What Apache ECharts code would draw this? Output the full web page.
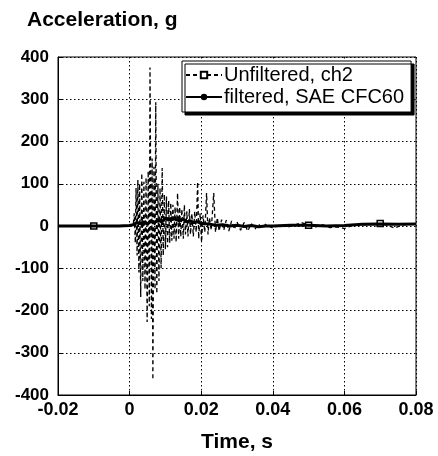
<!DOCTYPE html>
<html>
<head>
<meta charset="utf-8">
<script src="https://cdn.jsdelivr.net/npm/echarts@6/dist/echarts.min.js"></script>
<style>
html,body{margin:0;padding:0;background:#fff;}
#chart{width:438px;height:456px;}
</style>
</head>
<body>
<div id="chart"></div>
<script>
var titleText = 'Acceleration, g';
var xName = 'Time, s';
var seriesNames = ['Unfiltered, ch2', 'filtered, SAE CFC60'];

var unfT = [-0.02, -0.015, -0.01, -0.005, 0, 0.0005, 0.0010, 0.0013, 0.0016, 0.0018, 0.0021, 0.0023, 0.0026, 0.0028, 0.0031, 0.0034, 0.0037, 0.0040, 0.0043, 0.0046, 0.0049, 0.0052, 0.0055, 0.0057, 0.0061, 0.0063, 0.0065, 0.0068, 0.0071, 0.0073, 0.0076, 0.0079, 0.0082, 0.0085, 0.0088, 0.0091, 0.0094, 0.0097, 0.0100, 0.0103, 0.0106, 0.0109, 0.0112, 0.0115, 0.0118, 0.0121, 0.0124, 0.0127, 0.0130, 0.0134, 0.0137, 0.0140, 0.0143, 0.0146, 0.0150, 0.0153, 0.0156, 0.0160, 0.0163, 0.0167, 0.0170, 0.0174, 0.0178, 0.0182, 0.0186, 0.0190, 0.0193, 0.0197, 0.0201, 0.0205, 0.0210, 0.0215, 0.0219, 0.0223, 0.0228, 0.0235, 0.0240, 0.0245, 0.0250, 0.0257, 0.0263, 0.0270, 0.0277, 0.0285, 0.0293, 0.0300, 0.031, 0.032, 0.033, 0.034, 0.035, 0.036, 0.037, 0.038, 0.040, 0.042, 0.044, 0.046, 0.048, 0.050, 0.052, 0.054, 0.056, 0.058, 0.060, 0.062, 0.064, 0.066, 0.068, 0.070, 0.072, 0.074, 0.076, 0.078, 0.080];
var unfV = [0, 0, 0, 0, 0, 1, 2, 30, -40, 90, -70, 109, -110, 100, -168, 125, -130, 105, -150, 115, -227, 130, -190, 375, -220, 160, -364, 140, -150, 293, -160, 100, -130, 90, -100, 137, -70, 75, -55, 70, -50, 60, -40, 55, -35, 50, -30, 45, -38, 78, -30, 45, -25, 40, -30, 50, -20, 35, -25, 40, -20, 30, -25, 35, -15, 104, -30, 30, -38, 25, -15, 78, -20, 20, -10, 78, -15, 20, -12, 15, -10, 14, -12, 12, -8, 10, -10, 8, -12, 6, -8, 5, -5, 4, -5, 3, -3, 2, 8, 2, -2, 3, -4, -2, -6, 1, 2, 3, 6, 6, 2, -5, 2, 4, 4];
var unfMarkerT = [-0.01, 0.05, 0.07];

var filT = [-0.02, -0.01, -0.003, 0, 0.001, 0.002, 0.003, 0.004, 0.005, 0.006, 0.007, 0.008, 0.009, 0.010, 0.011, 0.012, 0.013, 0.014, 0.015, 0.016, 0.017, 0.018, 0.019, 0.020, 0.022, 0.024, 0.026, 0.028, 0.030, 0.032, 0.034, 0.036, 0.038, 0.040, 0.045, 0.050, 0.055, 0.060, 0.065, 0.070, 0.075, 0.080];
var filV = [0, 0, 0, 1, 3, 8, 6, 10, 5, 12, 8, 14, 10, 18, 14, 20, 15, 12, 16, 10, 12, 8, 10, 6, 5, 2, 3, 0, 2, -1, 1, -2, 0, 0, 2, 2, 0, 1, 4, 5, 4, 5];

var FONT = 'Liberation Sans, Arial, Helvetica, sans-serif';

var unfData = unfT.map(function (t, i) { return [t, unfV[i]]; });
var filData = filT.map(function (t, i) { return [t, filV[i]]; });

var chart = echarts.init(document.getElementById('chart'), null, {renderer: 'canvas'});
chart.setOption({
  backgroundColor: '#fff',
  animation: false,
  title: {
    text: titleText,
    left: 22,
    top: 5,
    textStyle: {fontFamily: FONT, fontWeight: 'bold', fontSize: 21, color: '#000'}
  },
  legend: {
    orient: 'vertical',
    left: 182,
    top: 61,
    padding: [4, 7, 5, 3],
    itemGap: 2,
    itemWidth: 36,
    itemHeight: 8,
    backgroundColor: '#fff',
    borderColor: '#000',
    borderWidth: 1,
    shadowColor: '#000',
    shadowBlur: 0,
    shadowOffsetX: 3,
    shadowOffsetY: 3,
    textStyle: {fontFamily: FONT, fontSize: 20, color: '#000', padding: [0, 0, 0, -3]},
    data: seriesNames
  },
  grid: {
    left: 58, right: 22, top: 57, bottom: 61,
    outerBoundsMode: 'none',
    containLabel: false,
    show: true, borderColor: '#000', borderWidth: 1
  },
  xAxis: {
    type: 'value',
    min: -0.02, max: 0.08, interval: 0.02,
    name: xName,
    nameLocation: 'middle',
    nameGap: 37,
    nameTextStyle: {fontFamily: FONT, fontWeight: 'bold', fontSize: 21, color: '#000'},
    axisLine: {show: true, onZero: false, lineStyle: {color: '#000', width: 1}},
    axisTick: {show: true, inside: true, length: 4, lineStyle: {color: '#000'}},
    axisLabel: {fontFamily: FONT, fontWeight: 'bold', fontSize: 18, color: '#000', margin: 6,
      formatter: function (v) { return v === 0 ? '0' : String(+v.toFixed(2)); }},
    splitLine: {show: true, lineStyle: {color: '#000', type: [1.5, 2.5], width: 1}}
  },
  yAxis: {
    type: 'value',
    min: -400, max: 400, interval: 100,
    axisLine: {show: true, onZero: false, lineStyle: {color: '#000', width: 1}},
    axisTick: {show: true, inside: true, length: 4, lineStyle: {color: '#000'}},
    axisLabel: {fontFamily: FONT, fontWeight: 'bold', fontSize: 17, color: '#000', margin: 9},
    splitLine: {show: true, lineStyle: {color: '#000', type: [1.5, 2.5], width: 1}}
  },
  series: [
    {
      name: seriesNames[0],
      type: 'line',
      data: unfData,
      symbol: 'rect',
      showAllSymbol: true,
      symbolSize: function (val) {
        return unfMarkerT.indexOf(val[0]) >= 0 ? 6 : 0;
      },
      itemStyle: {color: '#fff', borderColor: '#000', borderWidth: 1.5},
      lineStyle: {color: '#000', width: 1.3, type: [4, 3]},
      z: 2
    },
    {
      name: seriesNames[1],
      type: 'line',
      data: filData,
      symbol: 'circle',
      symbolSize: 5,
      showSymbol: false,
      itemStyle: {color: '#000'},
      lineStyle: {color: '#000', width: 3},
      z: 3
    }
  ]
});
</script>
</body>
</html>
